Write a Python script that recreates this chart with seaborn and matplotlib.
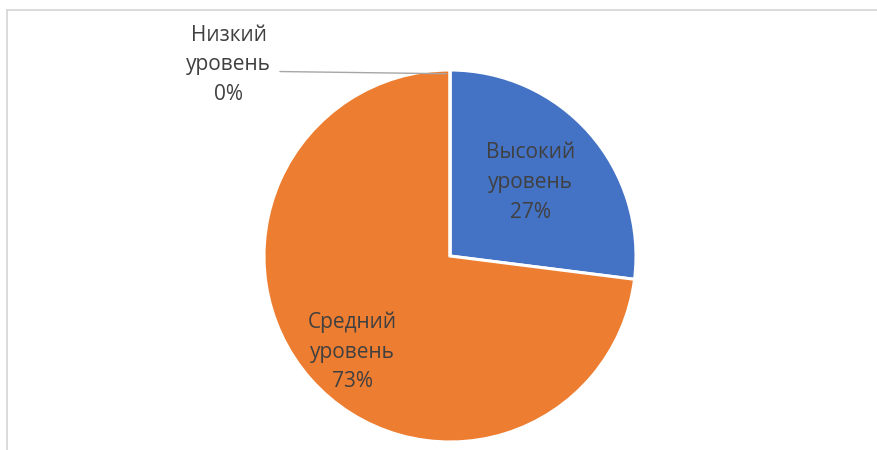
import numpy as np
import matplotlib
matplotlib.use("Agg")
import matplotlib.pyplot as plt
from matplotlib.lines import Line2D
import seaborn as sns

# Distribution of levels
categories = ["Высокий\nуровень", "Средний\nуровень", "Низкий\nуровень"]
shares = [27, 73, 0]
colors = ["#4472C4", "#ED7D31", "#A5A5A5"]

sns.set_theme(style="white")
plt.rcParams["font.family"] = ["Open Sans", "DejaVu Sans"]

W, H = 878, 450
fig = plt.figure(figsize=(W / 100, H / 100), dpi=100)
fig.patch.set_facecolor("white")

# pie centre (450, 256) px, radius 186 px
cx, cy, r = 450, 256, 186
ax = fig.add_axes([(cx - r) / W, (H - cy - r) / H, 2 * r / W, 2 * r / H])

wedges, _ = ax.pie(shares, colors=colors, startangle=90, counterclock=False,
                   wedgeprops=dict(edgecolor="white", linewidth=2.2),
                   radius=1.0)
ax.set_xlim(-1, 1)
ax.set_ylim(-1, 1)
ax.set_aspect("equal")
ax.axis("off")

text_color = "#404040"
fs = 15.0
lsp = 1.55
# (radius, angular nudge in degrees) for the in-slice labels
label_place = [(0.585, 1.0), (0.737, 3.0)]
for i, (w, cat, val) in enumerate(zip(wedges, categories, shares)):
    if val == 0:
        continue
    rad, nudge = label_place[i]
    mid = np.deg2rad((w.theta1 + w.theta2) / 2 + nudge)
    x, y = rad * np.cos(mid), rad * np.sin(mid)
    ax.text(x, y, f"{cat}\n{val}%", ha="center", va="center",
            fontsize=fs, color=text_color, linespacing=lsp)

# zero-share slice: label outside with a leader line
w0 = wedges[2]
ang = np.deg2rad(w0.theta1)
px, py = 0.98 * np.cos(ang) - 0.02, 0.98 * np.sin(ang)
ax.annotate(f"{categories[2]}\n{shares[2]}%", xy=(px, py), xytext=(-1.19, 1.027),
            ha="center", va="center", fontsize=fs, color=text_color,
            linespacing=lsp, annotation_clip=False,
            arrowprops=dict(arrowstyle="-", color="#A6A6A6", lw=1.0,
                            shrinkA=4, shrinkB=0,
                            relpos=(1.0, 0.42)))

# chart area border (top and left edges)
fig.add_artist(Line2D([7 / W, 1], [1 - 9.5 / H, 1 - 9.5 / H],
                      transform=fig.transFigure, color="#D4D4D4", lw=1.2))
fig.add_artist(Line2D([7.5 / W, 7.5 / W], [0, 1 - 9.5 / H],
                      transform=fig.transFigure, color="#D4D4D4", lw=1.2))

fig.savefig("out.png", dpi=100, facecolor="white")
